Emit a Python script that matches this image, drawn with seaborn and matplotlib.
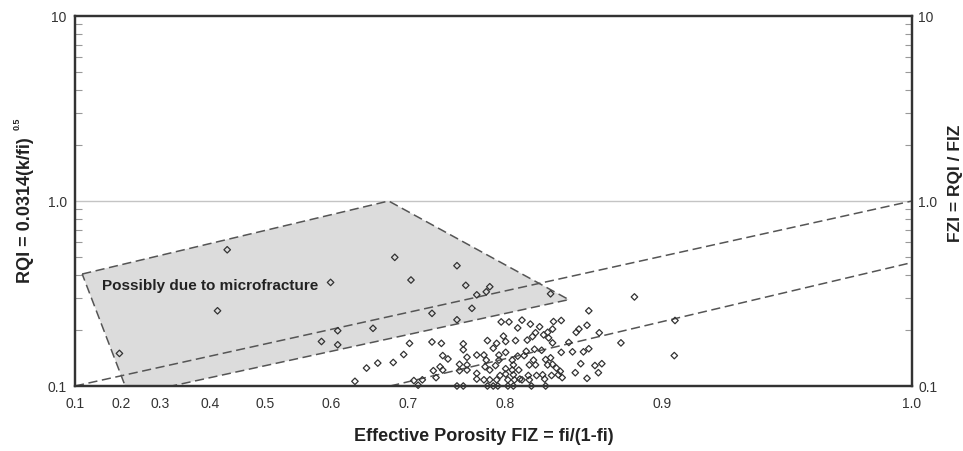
import matplotlib
matplotlib.use("Agg")
import matplotlib.pyplot as plt
import numpy as np
import pandas as pd
import seaborn as sns
from matplotlib.ticker import FixedLocator, FixedFormatter, NullLocator, NullFormatter, LogLocator

# ---------------- data ----------------
# Normalized porosity index FIZ (x, log axis) and RQI (y, log axis)
fiz = [
    0.152, 0.241, 0.202, 0.252, 0.148, 0.113, 0.206, 0.227, 0.197, 0.206,
    0.251, 0.247, 0.223, 0.230, 0.240, 0.216, 0.254, 0.257, 0.260,
    0.286, 0.293, 0.313, 0.310, 0.302, 0.370, 0.466, 0.298, 0.267, 0.286,
    0.411, 0.521, 0.520, 0.449, 0.267, 0.274, 0.291, 0.291, 0.275, 0.279,
    0.268, 0.273, 0.275, 0.270, 0.288, 0.288, 0.294, 0.294, 0.294, 0.302,
    0.302, 0.302, 0.286, 0.291,
    0.311, 0.319, 0.316, 0.327, 0.327, 0.323, 0.330, 0.342, 0.338, 0.325,
    0.336, 0.350, 0.359, 0.347, 0.352, 0.355, 0.363, 0.367, 0.373, 0.381,
    0.372, 0.368, 0.372, 0.389, 0.381, 0.393, 0.397, 0.400, 0.409, 0.423,
    0.411, 0.405, 0.402, 0.418, 0.426, 0.422, 0.396, 0.409,
    0.308, 0.310, 0.309, 0.313, 0.321, 0.321, 0.318, 0.322, 0.327, 0.333,
    0.334, 0.338, 0.344, 0.346, 0.354, 0.361, 0.353, 0.349, 0.355, 0.365,
    0.370, 0.367, 0.372, 0.376, 0.380, 0.382,
    0.333, 0.339, 0.327, 0.334, 0.340, 0.348, 0.356, 0.362, 0.371, 0.378, 0.364,
    0.308, 0.313, 0.319, 0.329, 0.335, 0.342, 0.349,
    0.311, 0.316, 0.320, 0.329, 0.334, 0.351, 0.365,
]
rqi = [
    0.545, 0.496, 0.363, 0.374, 0.255, 0.150, 0.199, 0.205, 0.174, 0.167,
    0.170, 0.148, 0.125, 0.133, 0.134, 0.106, 0.107, 0.101, 0.108,
    0.447, 0.350, 0.344, 0.323, 0.311, 0.315, 0.303, 0.263, 0.247, 0.228,
    0.255, 0.226, 0.146, 0.171, 0.173, 0.170, 0.169, 0.157, 0.146, 0.140,
    0.121, 0.127, 0.122, 0.111, 0.131, 0.121, 0.143, 0.130, 0.122, 0.147,
    0.117, 0.109, 0.100, 0.100,
    0.176, 0.170, 0.160, 0.174, 0.152, 0.222, 0.222, 0.227, 0.206, 0.186,
    0.176, 0.216, 0.209, 0.177, 0.185, 0.194, 0.189, 0.195, 0.223, 0.226,
    0.203, 0.182, 0.171, 0.172, 0.152, 0.153, 0.195, 0.203, 0.213, 0.194,
    0.159, 0.153, 0.132, 0.129, 0.132, 0.118, 0.118, 0.110,
    0.147, 0.138, 0.127, 0.122, 0.147, 0.138, 0.129, 0.114, 0.124, 0.138,
    0.130, 0.145, 0.146, 0.154, 0.158, 0.156, 0.138, 0.130, 0.130, 0.139,
    0.142, 0.130, 0.131, 0.125, 0.120, 0.111,
    0.122, 0.122, 0.116, 0.115, 0.109, 0.114, 0.114, 0.115, 0.114, 0.115, 0.109,
    0.108, 0.108, 0.108, 0.108, 0.108, 0.108, 0.108,
    0.100, 0.100, 0.100, 0.100, 0.100, 0.100, 0.100,
]

# FZI iso-lines (dashed)
fzi_upper_x = [0.1, 1.0]
fzi_upper_y = [0.1, 1.0]
fzi_lower_x = [0.238, 1.0]
fzi_lower_y = [0.1, 0.465]

# shaded "microfracture" zone
zone_x = [0.102, 0.237, 0.389, 0.1305, 0.1148]
zone_y = [0.403, 1.0, 0.293, 0.1, 0.1]
zone_text = "Possibly due to microfracture"
zone_text_x = 0.1076
zone_text_y = 0.352

# axis ticks
xtick_pos = [0.1, 0.1135, 0.1264, 0.1450, 0.1687, 0.2022, 0.2500, 0.3265, 0.5027, 1.0]
xtick_labels = ["0.1", "0.2", "0.3", "0.4", "0.5", "0.6", "0.7", "0.8", "0.9", "1.0"]
ytick_vals = [0.1, 1.0, 10.0]
ytick_labels = ["0.1", "1.0", "10"]

x_title = "Effective Porosity FIZ = fi/(1-fi)"
y_title = "RQI = 0.0314(k/fi)"
y_title_sup = "0.5"
y2_title = "FZI = RQI / FIZ"

# ---------------- style ----------------
sns.set_style("white")
plt.rcParams["font.family"] = ["Liberation Sans", "DejaVu Sans"]

W, H = 963, 452
fig = plt.figure(figsize=(W / 100, H / 100), dpi=100)
L, R, B, T = 75, 912, 387, 17
ax = fig.add_axes([L / W, 1 - B / H, (R - L) / W, (B - T) / H])

ax.set_xscale("log")
ax.set_yscale("log")
ax.set_xlim(0.1, 1.0)
ax.set_ylim(0.1, 10)

line_col = "#555555"

# shaded zone
ax.fill(zone_x, zone_y, facecolor="#dcdcdc", edgecolor=line_col,
        linewidth=1.1, linestyle=(0, (6, 3)), zorder=1)

# gridline at 1.0
ax.axhline(1.0, color="#c4c4c4", linewidth=1.0, zorder=0.5)

# FZI lines
ax.plot(fzi_upper_x, fzi_upper_y, color=line_col, linewidth=1.1,
        dashes=(6, 3), zorder=2)
ax.plot(fzi_lower_x, fzi_lower_y, color=line_col, linewidth=1.1,
        dashes=(6, 3), zorder=2)

# points
df = pd.DataFrame({"FIZ": fiz, "RQI": rqi})
sns.scatterplot(data=df, x="FIZ", y="RQI", ax=ax, marker="D", s=11,
                facecolor="none", edgecolor="#333333", linewidth=0.9,
                zorder=3, clip_on=False, legend=False)

ax.text(zone_text_x, zone_text_y, zone_text, fontsize=11, fontweight="bold",
        color="#222222", va="center", ha="left", zorder=4)

# x ticks
ax.xaxis.set_major_locator(FixedLocator(xtick_pos))
ax.xaxis.set_major_formatter(FixedFormatter(xtick_labels))
ax.xaxis.set_minor_locator(NullLocator())
ax.tick_params(axis="x", which="major", direction="in", length=5, width=0.8,
               color="#aaaaaa", labelsize=10, labelcolor="#333333", pad=7)

# y ticks
ax.yaxis.set_major_locator(FixedLocator(ytick_vals))
ax.yaxis.set_major_formatter(FixedFormatter(ytick_labels))
ax.yaxis.set_minor_locator(LogLocator(base=10, subs=np.arange(2, 10)))
ax.yaxis.set_minor_formatter(NullFormatter())
ax.tick_params(axis="y", which="major", direction="in", length=0,
               labelsize=10, labelcolor="#333333", pad=6)
ax.tick_params(axis="y", which="minor", direction="in", length=5, width=0.8,
               color="#999999")
ax.set_xlabel("")
ax.set_ylabel("")

ax2 = ax.twinx()
ax2.set_yscale("log")
ax2.set_ylim(0.1, 10)
ax2.yaxis.set_major_locator(FixedLocator(ytick_vals))
ax2.yaxis.set_major_formatter(FixedFormatter(ytick_labels))
ax2.yaxis.set_minor_locator(LogLocator(base=10, subs=np.arange(2, 10)))
ax2.yaxis.set_minor_formatter(NullFormatter())
ax2.tick_params(axis="y", which="major", direction="in", length=0,
                labelsize=10, labelcolor="#333333", pad=4.5)
ax2.tick_params(axis="y", which="minor", direction="in", length=5, width=0.8,
                color="#999999")

for a in (ax, ax2):
    for s in a.spines.values():
        s.set_visible(True)
        s.set_color("#333333")
        s.set_linewidth(1.6)

# titles
fig.text(484 / W, 1 - 437 / H, x_title, fontsize=13, fontweight="bold",
         ha="center", va="center", color="#222222")
fig.text(26 / W, 1 - 210 / H, y_title, fontsize=13, fontweight="bold",
         rotation=90, ha="center", va="center", color="#222222")
fig.text(17 / W, 1 - 124 / H, y_title_sup, fontsize=6.5, fontweight="bold",
         rotation=90, ha="center", va="center", color="#222222")
fig.text(955 / W, 1 - 183 / H, y2_title, fontsize=12.5, fontweight="bold",
         rotation=90, ha="center", va="center", color="#222222")

fig.savefig("out.png", dpi=100, facecolor="white")
